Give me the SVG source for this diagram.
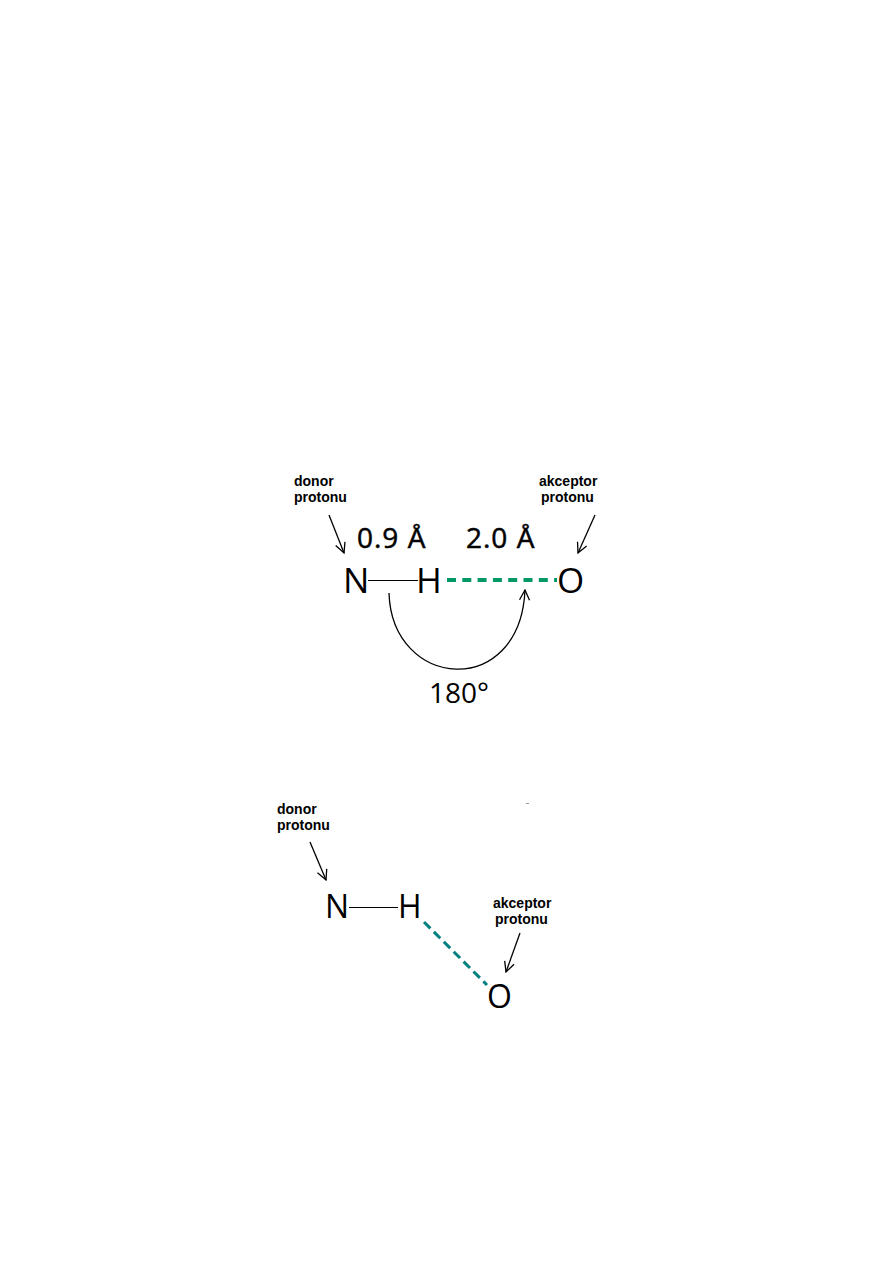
<svg xmlns="http://www.w3.org/2000/svg" width="893" height="1263" viewBox="0 0 893 1263">
<defs>
<style>
.lbl{font-family:"Liberation Sans",Arial,sans-serif;font-weight:bold;font-size:14px;fill:#000}
.atom{font-family:"Open Sans","Noto Sans",sans-serif;fill:#000}
.num{font-family:"Open Sans","Noto Sans",sans-serif;fill:#000;stroke:#000;stroke-width:0.5px;font-size:28px;letter-spacing:1px}
.arr{fill:none;stroke:#000;stroke-width:1.3}
</style>
<marker id="vh" viewBox="0 0 12 12" refX="11" refY="6" markerWidth="12" markerHeight="12" markerUnits="userSpaceOnUse" orient="auto">
<path d="M1,1 L11,6 L1,11" fill="none" stroke="#000" stroke-width="1.3"/>
</marker>
</defs>
<rect width="893" height="1263" fill="#fff"/>
<g id="top">
<g id="donor1"><text class="lbl" x="294" y="486">donor</text><text class="lbl" x="294" y="502">protonu</text></g>
<g id="acceptor1"><text class="lbl" x="539" y="486">akceptor</text><text class="lbl" x="541" y="502">protonu</text></g>
<g id="N1"><text class="atom" x="343" y="593" font-size="35">N</text></g>
<g id="H1"><text class="atom" x="416" y="593" font-size="35">H</text></g>
<g id="O1"><text class="atom" x="557" y="593" font-size="35">O</text></g>
<g id="d1"><text class="num" x="357" y="548">0.9 Å</text></g>
<g id="d2"><text class="num" x="466" y="548">2.0 Å</text></g>
<g id="ang"><text class="atom" x="429" y="703" font-size="28">180°</text></g>
</g>
<g id="bottom">
<g id="donor2"><text class="lbl" x="277" y="814">donor</text><text class="lbl" x="277" y="830">protonu</text></g>
<g id="acceptor2"><text class="lbl" x="493" y="908">akceptor</text><text class="lbl" x="495" y="924">protonu</text></g>
<g id="N2"><text class="atom" x="325" y="918" font-size="32">N</text></g>
<g id="H2"><text class="atom" x="398" y="918" font-size="32">H</text></g>
<g id="O2"><text class="atom" x="487" y="1008" font-size="32">O</text></g>
</g>
<g id="connectors">
<line class="arr" x1="329" y1="515" x2="344" y2="553" marker-end="url(#vh)"/>
<line class="arr" x1="595" y1="515" x2="578" y2="553" marker-end="url(#vh)"/>
<line x1="368" y1="580.5" x2="418" y2="580.5" stroke="#000" stroke-width="1"/>
<line x1="447" y1="580" x2="557" y2="580" stroke="#009966" stroke-width="4" stroke-dasharray="9,6.3"/>
<path class="arr" d="M389,593 C392,690 520,700 525,590" marker-end="url(#vh)"/>
<line class="arr" x1="310" y1="842" x2="326" y2="880" marker-end="url(#vh)"/>
<line x1="349" y1="907.5" x2="398" y2="907.5" stroke="#000" stroke-width="1"/>
<line x1="424" y1="922" x2="487" y2="985" stroke="#008080" stroke-width="3" stroke-dasharray="9,5"/>
<line class="arr" x1="520" y1="933" x2="506" y2="972" marker-end="url(#vh)"/>
</g>
<rect x="526" y="803" width="3" height="1" fill="#999"/>
</svg>
